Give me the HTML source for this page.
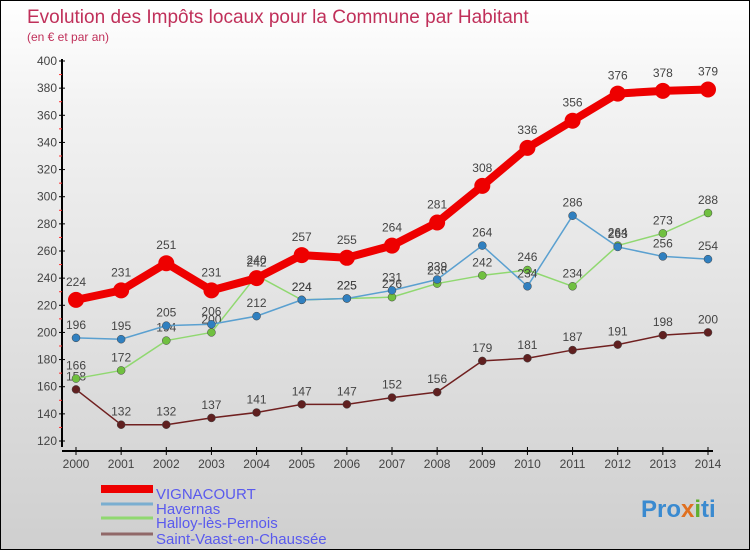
<!DOCTYPE html>
<html><head><meta charset="utf-8"><style>
body{margin:0}
#c{width:750px;height:550px;position:relative;box-sizing:border-box;border:1px solid #000;background:linear-gradient(#fff,#f2f2f2 20%,#cfcfcf);font-family:"Liberation Sans",sans-serif;overflow:hidden}
</style></head><body>
<div id="c">
<svg id="s" width="750" height="550" style="position:absolute;left:0;top:0">
<text x="26" y="22" font-size="19" fill="#c0305a">Evolution des Impôts locaux pour la Commune par Habitant</text>
<text x="26" y="40" font-size="12" fill="#c0305a">(en € et par an)</text>
<text x="640" y="516" font-size="24" font-weight="bold" fill="#3a8ad0">Pro<tspan fill="#e07020">x</tspan><tspan fill="#60b030">i</tspan>ti</text>
</svg>
</div>
<script>
const years=[2000,2001,2002,2003,2004,2005,2006,2007,2008,2009,2010,2011,2012,2013,2014];
const vignacourt=[224,231,251,231,240,257,255,264,281,308,336,356,376,378,379];
const havernas=[196,195,205,206,212,224,225,231,239,264,234,286,263,256,254];
const halloy=[166,172,194,200,242,224,225,226,236,242,246,234,264,273,288];
const stvaast=[158,132,132,137,141,147,147,152,156,179,181,187,191,198,200];
const yTicks=[120,140,160,180,200,220,240,260,280,300,320,340,360,380,400];
const names=["VIGNACOURT","Havernas","Halloy-lès-Pernois","Saint-Vaast-en-Chaussée"];
const NS="http://www.w3.org/2000/svg";
const s=document.getElementById('s');
const X=i=>75+i*(707-75)/14;
const Y=v=>440-(v-120)*(380/280);
function el(t,a,p){const e=document.createElementNS(NS,t);for(const k in a)e.setAttribute(k,a[k]);(p||s).appendChild(e);return e;}
// axes
let ax=el('line',{x1:61,y1:58,x2:61,y2:446,stroke:'#000','stroke-width':2});


let xa=el('line',{x1:61,y1:450,x2:712,y2:450,stroke:'#000','stroke-width':2});


yTicks.forEach((v,i)=>{
  el('line',{x1:58,y1:Y(v),x2:64,y2:Y(v),stroke:'#000'});
  if(i<yTicks.length-1)el('line',{x1:58,y1:Y(v+10),x2:61,y2:Y(v+10),stroke:'#f33'});
  const t=el('text',{x:56,y:Y(v)+4,'text-anchor':'end','font-size':12,fill:'#444'});t.textContent=v;
  
  
});
years.forEach((y,i)=>{
  el('line',{x1:X(i),y1:446,x2:X(i),y2:454,stroke:'#000'});
  const t=el('text',{x:X(i),y:467,'text-anchor':'middle','font-size':12,fill:'#444'});t.textContent=y;
  
  
});
const series=[[stvaast,'#702020','#602020',1.5,4],[halloy,'#90d870','#70c040',1.5,4],[havernas,'#5aa0d0','#3080c0',1.5,4],[vignacourt,'#ee0000','#ee0000',8,8]];
series.forEach(([d,c,dc,w,r],si)=>{
  const pts=d.map((v,i)=>X(i)+','+Y(v)).join(' ');
  const pl=el('polyline',{points:pts,fill:'none',stroke:c,'stroke-width':w,'stroke-linejoin':'round'});
  
  
  d.forEach((v,i)=>{
    const cc=el('circle',{cx:X(i),cy:Y(v),r:r,fill:dc,stroke:si==3?'none':'#444','stroke-width':0.5});
    
    
    const t=el('text',{x:X(i),y:Y(v)-(si==3?14:9),'text-anchor':'middle','font-size':12,fill:'#444'});t.textContent=v;
    
    
  });
});
// legend
const lc=['#ee0000','#7aaed0','#90d870','#906868'],lw=[8,3,3,3],ly=[493,508,522,538];
names.forEach((n,i)=>{
  const l=el('line',{x1:100,y1:ly[i]-5,x2:152,y2:ly[i]-5,stroke:lc[i],'stroke-width':lw[i]});
  
  
  const t=el('text',{x:155,y:ly[i]+5,'font-size':15,fill:'#5a5aee'});t.textContent=n;
  
  
});
</script>
</body></html>
